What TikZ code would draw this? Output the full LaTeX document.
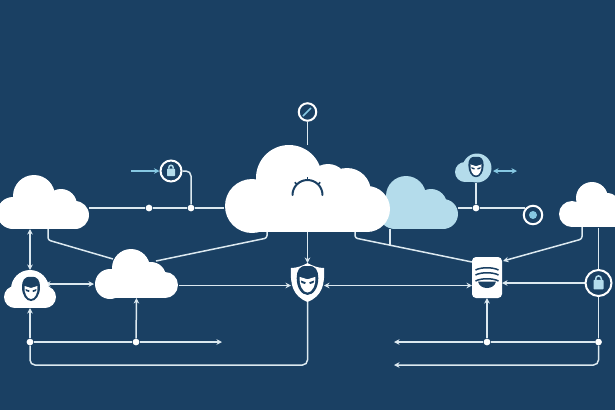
\documentclass[tikz,border=0pt]{standalone}
\usepackage{tikz}
\usetikzlibrary{arrows.meta}
\definecolor{navy}{HTML}{1A4063}
\definecolor{paleblue}{HTML}{B4DCEB}
\definecolor{skyblue}{HTML}{86C8E2}
\definecolor{wirecol}{HTML}{DCE9F0}
\pgfdeclarelayer{wires}
\pgfdeclarelayer{ground}
\pgfsetlayers{ground,wires,main}
% filled cloud: colour, base rectangle x1 x2 y1 y2, then circles x/y/r
\newcommand{\puff}[6]{
    \fill[#1] (#2,#4) rectangle (#3,#5);
    \foreach \cx/\cy/\cr in {#6} {\fill[#1] (\cx,\cy) circle[radius=\cr];}
}
\tikzset{
    >={Stealth[length=1.1mm,width=1.1mm]},
    wire/.style={draw=wirecol, line width=0.3mm},
    bluewire/.style={draw=skyblue, line width=0.3mm},
    blank/.style={inner sep=0pt, outer sep=0pt},
    dot/.style={circle, fill=white, inner sep=0pt, minimum size=1.35mm},
    ring/.style={circle, draw=white, fill=navy, line width=0.4mm, inner sep=0pt},
    pics/faceicon/.style={code={
        \fill[navy] (0,-12) .. controls (7,-13) and (9,-8) .. (9,-2)
            .. controls (9,6) and (5,12) .. (0,12)
            .. controls (-5,12) and (-9,6) .. (-9,-2)
            .. controls (-9,-8) and (-7,-13) .. (0,-12) -- cycle;
        \fill[white] (-6.5,-3) -- (0,-1) -- (6.5,-3)
            .. controls (7,4) and (4,10) .. (0,10)
            .. controls (-4,10) and (-7,4) .. (-6.5,-3) -- cycle;
        \fill[navy] (-5.5,0) -- (-1.5,1.5) -- (-2,3) -- (-5,2) -- cycle;
        \fill[navy] (5.5,0) -- (1.5,1.5) -- (2,3) -- (5,2) -- cycle;
    }},
    pics/lockicon/.style={code={
        \fill[paleblue, rounded corners=0.15mm] (-4,-2.5) rectangle (4,5);
        \draw[paleblue, line width=0.3mm] (-2.2,-2.5) -- (-2.2,-3.5)
            arc[start angle=180, end angle=360, radius=2.2] -- (2.2,-2.5);
    }}
}
\begin{document}
\begin{tikzpicture}[x=0.2mm, y=-0.2mm]
    \useasboundingbox (0,0) rectangle (615,410);
    \begin{pgfonlayer}{ground}
        \fill[navy] (0,0) rectangle (615,410);
    \end{pgfonlayer}

    % clouds
    \node[blank, minimum width=18.2mm, minimum height=10.8mm] (cloudA) at (43.5,202) {};
    \puff{white}{13}{75}{205}{229}{13/213/16, 34/196/21, 61/205/16, 75/215/14}
    \node[blank, minimum width=17mm, minimum height=9.8mm] (cloudB) at (136.5,273.5) {};
    \puff{white}{110}{165}{276}{298}{110/284/15, 131/268/19, 151/277/15, 165/285/13}
    \node[blank, minimum width=11.8mm, minimum height=9.2mm] (cloudC) at (588,204.5) {};
    \puff{white}{572}{617}{205}{227}{572/214/13, 592/198/16, 607/207/14, 617/214/13}
    \node[blank, minimum width=14.6mm, minimum height=10.8mm] (paleCloud) at (421.5,202) {};
    \puff{paleblue}{395}{443}{205}{229}{395/212/17, 406/196/20, 431/205/16, 443/214/15}
    \node[blank, minimum width=33.2mm, minimum height=17.4mm] (mainCloud) at (307.5,188.5) {};
    \puff{white}{252}{367}{190}{232}{252/206/27, 289/178/33, 328/184/20, 347/192/24, 367/209/23}
    \draw[navy, line width=0.4mm, line cap=round] (292.5,195) arc[start angle=180, end angle=360, radius=15];
    \foreach \tick in {225,270,315} {
        \draw[navy, line width=0.3mm] (307.5,195) ++(\tick:15) -- ++(\tick:3);
    }

    % people
    \node[blank, minimum width=10.6mm, minimum height=7.6mm] (faceCloud) at (29.5,289) {};
    \puff{white}{15}{45}{292}{308}{15/297/11, 30/289/19, 45/297/11}
    \pic at (31,289) {faceicon};
    \node[blank, minimum width=7.4mm, minimum height=5.8mm] (paleFace) at (473.5,168) {};
    \puff{paleblue}{465}{477}{172}{182}{465/172/10, 477/168/14.5}
    \pic[scale=0.85] at (476,167) {faceicon};

    % shield
    \node[blank, minimum width=6.6mm, minimum height=7.8mm] (shield) at (307.5,282.5) {};
    \fill[white] (307.5,263) .. controls (313,266) and (318,268) .. (324,268)
        .. controls (325,285) and (322,296) .. (307.5,302)
        .. controls (293,296) and (290,285) .. (291,268)
        .. controls (297,268) and (302,266) .. (307.5,263) -- cycle;
    \pic[scale=1.2] at (307.5,280.5) {faceicon};

    % box
    \node[blank, fill=white, rounded corners=0.8mm, minimum width=6mm, minimum height=8.2mm] (box) at (487,277.5) {};
    \foreach \wy in {269,274,280} {
        \draw[navy, line width=0.3mm] (475.5,\wy+1) .. controls (481,\wy-2) and (493,\wy-2) .. (498.5,\wy+1);
    }
    \fill[navy] (478,281.5) -- (496,281.5) .. controls (495,286) and (491,288) .. (487,288)
        .. controls (483,288) and (479,286) .. (478,281.5) -- cycle;

    % rings
    \node[ring, minimum size=4.2mm] (lockRing) at (171,171) {};
    \pic at (171,171) {lockicon};
    \node[ring, minimum size=3.5mm] (checkRing) at (307.5,112) {};
    \draw[skyblue, line width=0.35mm] (303,116) -- (311,108);
    \node[ring, minimum size=3.7mm] (targetRing) at (533,215) {};
    \fill[skyblue] (533,215) circle[radius=4];
    \node[ring, minimum size=5.2mm] (bigLock) at (598.5,283) {};
    \pic[scale=1.25] at (598.5,283) {lockicon};

    % junctions
    \node[dot] (jA) at (149,208) {};
    \node[dot] (jB) at (191,208) {};
    \node[dot] (jC) at (30,342) {};
    \node[dot] (jD) at (136,342) {};
    \node[dot] (jE) at (487,342) {};
    \node[dot] (jF) at (598.5,342) {};
    \node[dot] (jG) at (476,208) {};

    % free ends
    \coordinate (midLine) at (400,285.5);
    \coordinate (faceRight) at (45,284);
    \coordinate (blueIn) at (131,171);
    \coordinate (blueLeft) at (493,171);
    \coordinate (blueRight) at (517,171);
    \coordinate (endLeft) at (222,342);
    \coordinate (endRightA) at (394,342);
    \coordinate (endRightB) at (394,365);
    \coordinate (cloudAFoot) at (48,229);
    \coordinate (mainFootL) at (267,232);
    \coordinate (mainFootR) at (355,232);
    \coordinate (paleFoot) at (390,229);
    \coordinate (cloudCFoot) at (582,227);
    \coordinate (cloudBArmL) at (113,259);
    \coordinate (cloudBArmR) at (156,261);
    \coordinate (boxArmL) at (472,262);
    \coordinate (boxArmR) at (503,261);
    \coordinate (paleMeet) at (390,245);

    \begin{pgfonlayer}{wires}
        \draw[wire] (cloudA.east |- jA) -- (jA) -- (jB) -- (mainCloud.west |- jB);
        \draw[wire, rounded corners=1mm] (lockRing.east) -| (jB);
        \draw[bluewire, ->] (blueIn) -- (lockRing.west);
        \draw[bluewire, <->] (blueLeft) -- (blueRight);
        \draw[wire] (checkRing) -- (mainCloud.north);
        \draw[wire, ->] (mainCloud.south) -- (shield.north);
        \draw[wire, <->] (cloudA.south -| jC) -- (faceCloud.north -| jC);
        \draw[wire, rounded corners=0.5mm] (cloudAFoot) -- (48,240) -- (cloudBArmL);
        \draw[wire, rounded corners=0.5mm] (mainFootL) -- (267,238) -- (cloudBArmR);
        \draw[wire, rounded corners=0.5mm] (mainFootR) -- (355,238) -- (boxArmL);
        \draw[wire] (paleFoot) -- (paleMeet);
        \draw[wire, ->, rounded corners=0.5mm] (cloudCFoot) -- (582,239) -- (boxArmR);
        \draw[wire, <->] (faceRight) -- (cloudB.west |- faceRight);
        \draw[wire, ->] (cloudB.east |- midLine) -- (shield.west |- midLine);
        \draw[wire, <->] (shield.east |- midLine) -- (box.west |- midLine);
        \draw[wire, ->] (bigLock.west) -- (box.east |- bigLock);
        \draw[wire] (paleCloud.east |- jG) -- (jG) -- (525,208);
        \draw[wire] (jG) -- (paleFace.south -| jG);
        \draw[wire] (cloudC.south -| bigLock) -- (bigLock.north);
        \draw[wire] (bigLock.south) -- (jF);
        \draw[wire, ->] (jC) -- (faceCloud.south -| jC);
        \draw[wire, ->] (jC) -- (jD) -- (endLeft);
        \draw[wire, ->] (jD) -- (cloudB.south);
        \draw[wire, rounded corners=1mm] (jC) -- (30,365) -- (307.5,365) -- (shield.south);
        \draw[wire, ->] (jF) -- (jE) -- (endRightA);
        \draw[wire, ->] (jE) -- (box.south);
        \draw[wire, ->, rounded corners=1mm] (jF) |- (endRightB);
    \end{pgfonlayer}
\end{tikzpicture}
\end{document}
